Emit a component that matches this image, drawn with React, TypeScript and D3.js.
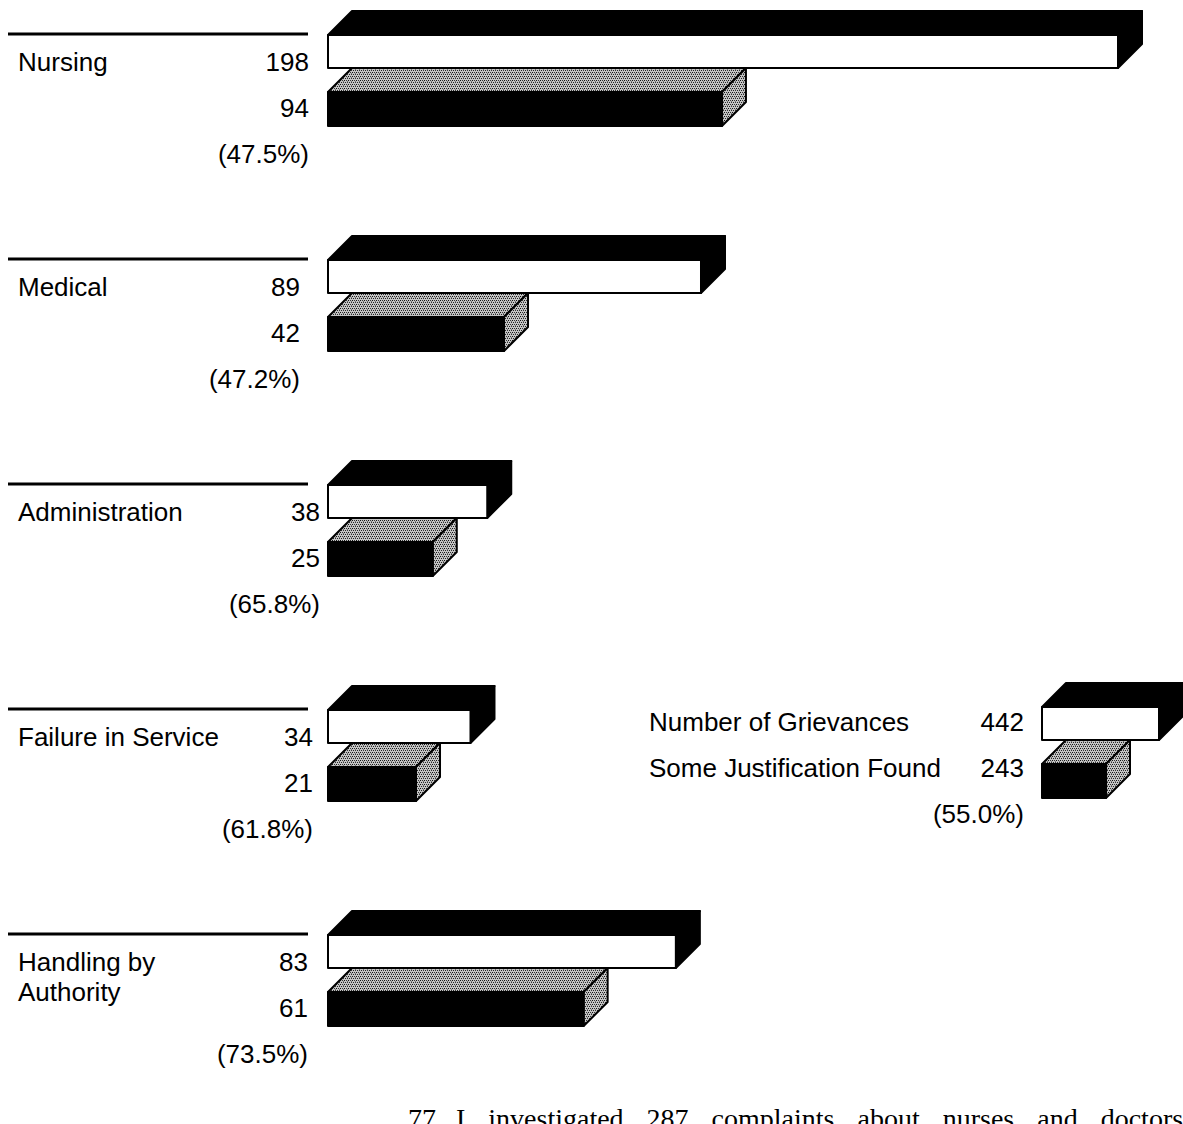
import React from "react";
import * as d3 from "d3";

// ---- data ----
const categories = ["Nursing", "Medical", "Administration", "Failure in Service", "Handling by Authority"];
const labelLines = [["Nursing"], ["Medical"], ["Administration"], ["Failure in Service"], ["Handling by", "Authority"]];
const grievances = [198, 89, 38, 34, 83];
const justified = [94, 42, 25, 21, 61];
const percentLabels = ["(47.5%)", "(47.2%)", "(65.8%)", "(61.8%)", "(73.5%)"];
const legendLabels = ["Number of Grievances", "Some Justification Found"];
const legendValues = [442, 243];
const legendPercent = "(55.0%)";
const footnoteNumber = "77";
const footnoteText = "I investigated 287 complaints about nurses and doctors";

// ---- layout ----
const W = 1183;
const H = 1124;
const BAR_X = 328;
const DEPTH = 24;
const FRONT_H = 33;
const numberRightX = [309, 300, 320, 313, 308];
const FONT = "'Liberation Sans', Arial, Helvetica, sans-serif";
const SERIF = "'Liberation Serif', 'Times New Roman', serif";
const FS = 26;

function Bar3D({ x, y, w, h, front, faces }: { x: number; y: number; w: number; h: number; front: string; faces: string }) {
  const d = DEPTH;
  const top = [[x, y], [x + d, y - d], [x + w + d, y - d], [x + w, y]];
  const side = [[x + w, y], [x + w + d, y - d], [x + w + d, y + h - d], [x + w, y + h]];
  const line = d3.line();
  return (
    <g stroke="#000" strokeWidth={2} strokeLinejoin="round">
      <path d={line(top as any) + "Z"} fill={faces} />
      <path d={line(side as any) + "Z"} fill={faces} />
      <rect x={x} y={y} width={w} height={h} fill={front} />
    </g>
  );
}

export default function App() {
  const x = d3.scaleLinear().domain([0, 188.5]).range([0, 790]).clamp(true);
  const gy = d3.scalePoint<string>().domain(categories).range([34, 934]);

  return (
    <svg width={W} height={H} style={{ position: "absolute", left: 0, top: 0, background: "#fff" }}>
      <defs>
        <pattern id="stipple" width={4} height={4} patternUnits="userSpaceOnUse">
          <rect width={4} height={4} fill="#c4c4c4" />
          <rect x={0} y={0} width={1} height={1} fill="#111" />
          <rect x={2} y={0} width={1} height={1} fill="#333" />
          <rect x={1} y={2} width={1} height={1} fill="#222" />
          <rect x={3} y={2} width={1} height={1} fill="#333" />
          <rect x={3} y={1} width={1} height={1} fill="#777" />
        </pattern>
      </defs>
      <rect width={W} height={H} fill="#fff" />
      {categories.map((c, i) => {
        const ly = gy(c)!;
        const whiteTop = ly + 1;
        const darkTop = whiteTop + FRONT_H + DEPTH;
        const nx = numberRightX[i];
        return (
          <g key={c}>
            <line x1={8} x2={308} y1={ly} y2={ly} stroke="#000" strokeWidth={3} />
            <text fontFamily={FONT} fontSize={FS} fill="#000">
              {labelLines[i].map((t, j) => (
                <tspan key={j} x={18} y={ly + 37 + j * 30}>{t}</tspan>
              ))}
            </text>
            <text x={nx} y={ly + 37} fontFamily={FONT} fontSize={FS} textAnchor="end">{grievances[i]}</text>
            <text x={nx} y={ly + 83} fontFamily={FONT} fontSize={FS} textAnchor="end">{justified[i]}</text>
            <text x={nx} y={ly + 129} fontFamily={FONT} fontSize={FS} textAnchor="end">{percentLabels[i]}</text>
            <Bar3D x={BAR_X} y={darkTop} w={x(justified[i])} h={FRONT_H + 1} front="#000" faces="url(#stipple)" />
            <Bar3D x={BAR_X} y={whiteTop} w={x(grievances[i])} h={FRONT_H} front="#fff" faces="#000" />
          </g>
        );
      })}
      {/* legend */}
      <g>
        <text x={649} y={731} fontFamily={FONT} fontSize={FS}>{legendLabels[0]}</text>
        <text x={1024} y={731} fontFamily={FONT} fontSize={FS} textAnchor="end">{legendValues[0]}</text>
        <text x={649} y={777} fontFamily={FONT} fontSize={FS}>{legendLabels[1]}</text>
        <text x={1024} y={777} fontFamily={FONT} fontSize={FS} textAnchor="end">{legendValues[1]}</text>
        <text x={1024} y={823} fontFamily={FONT} fontSize={FS} textAnchor="end">{legendPercent}</text>
        <Bar3D x={1042} y={764} w={64} h={FRONT_H + 1} front="#000" faces="url(#stipple)" />
        <Bar3D x={1042} y={707} w={117} h={FRONT_H} front="#fff" faces="#000" />
      </g>
      {/* footnote (body text of the page, cut off at the bottom) */}
      <text x={408} y={1128} fontFamily={SERIF} fontSize={28}>{footnoteNumber}</text>
      <text x={456} y={1128} fontFamily={SERIF} fontSize={28} style={{ wordSpacing: "16px" }}>{footnoteText}</text>
    </svg>
  );
}
